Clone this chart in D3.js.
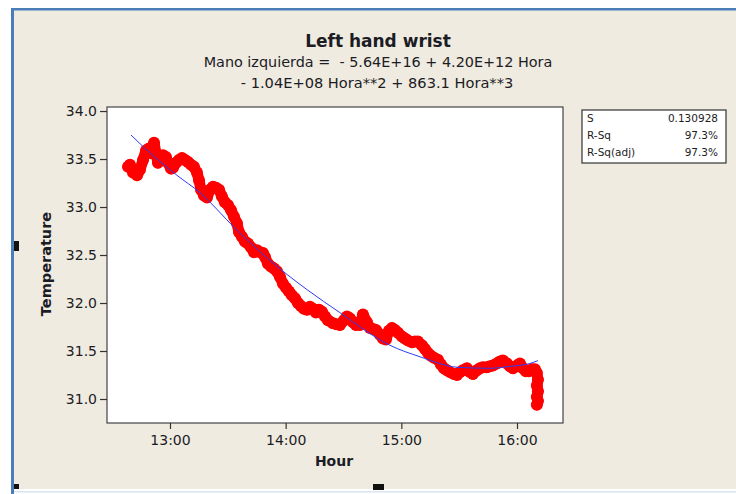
<!DOCTYPE html>
<html>
<head>
<meta charset="utf-8">
<script src="https://cdn.jsdelivr.net/npm/d3@7/dist/d3.min.js"></script>
<style>
  body { margin: 0; background: #fff; }
  svg text { font-family: "DejaVu Sans", Verdana, sans-serif; fill: #1c1c24; }
</style>
</head>
<body>
<div id="chart"></div>
<script>
// measured readings (hour of day as decimal, temperature)
var hours = [12.637,12.654,12.680,12.715,12.741,12.767,12.793,12.818,12.836,12.862,12.879,12.896,12.922,12.940,12.965,12.983,
  13.009,13.026,13.052,13.078,13.104,13.130,13.156,13.182,13.207,13.233,13.251,13.268,13.294,13.320,13.346,13.372,13.398,13.424,
  13.449,13.475,13.501,13.527,13.553,13.579,13.596,13.622,13.648,13.674,13.700,13.726,13.752,13.778,13.804,13.821,13.847,13.873,
  13.899,13.925,13.951,13.977,14.003,14.029,14.054,14.080,14.106,14.132,14.158,14.184,14.210,14.236,14.262,14.288,14.314,14.340,
  14.366,14.409,14.435,14.469,14.504,14.530,14.556,14.582,14.608,14.642,14.668,14.703,14.729,14.755,14.781,14.815,14.841,14.867,
  14.893,14.919,14.945,14.971,15.005,15.031,15.057,15.092,15.118,15.143,15.178,15.204,15.230,15.256,15.282,15.316,15.342,15.368,
  15.394,15.420,15.455,15.481,15.507,15.532,15.567,15.593,15.619,15.653,15.679,15.705,15.740,15.766,15.792,15.826,15.852,15.878,
  15.913,15.939,15.965,16.000,16.025,16.051,16.077,16.103,16.129,16.155,16.172,16.181,16.172,16.181,16.172,16.181,16.172];
var temps = [33.42,33.44,33.36,33.33,33.39,33.49,33.59,33.61,33.56,33.67,33.56,33.46,33.49,33.54,33.52,33.46,
  33.40,33.41,33.46,33.49,33.51,33.49,33.47,33.44,33.42,33.36,33.28,33.18,33.12,33.10,33.18,33.21,33.20,33.18,
  33.11,33.05,33.02,32.97,32.90,32.83,32.74,32.69,32.64,32.62,32.58,32.53,32.55,32.53,32.52,32.48,32.41,32.38,
  32.36,32.33,32.27,32.20,32.16,32.12,32.08,32.05,32.00,31.97,31.94,31.93,31.96,31.94,31.90,31.93,31.91,31.86,
  31.82,31.79,31.78,31.77,31.82,31.86,31.84,31.80,31.77,31.77,31.88,31.80,31.74,31.73,31.72,31.67,31.63,31.62,
  31.71,31.74,31.72,31.69,31.65,31.63,31.61,31.59,31.60,31.60,31.56,31.52,31.48,31.45,31.43,31.41,31.36,31.32,
  31.30,31.28,31.26,31.25,31.28,31.30,31.32,31.28,31.26,31.30,31.32,31.33,31.33,31.34,31.35,31.37,31.39,31.40,
  31.37,31.34,31.32,31.35,31.37,31.32,31.29,31.29,31.31,31.31,31.27,31.20,31.14,31.08,31.02,30.98,30.94];

// cubic regression line
var fitHours = [12.663,12.767,13.061,13.259,13.562,13.838,14.184,14.469,14.901,15.161,15.489,15.766,15.939,16.111,16.181];
var fitTemps = [33.75,33.63,33.33,33.15,32.78,32.47,32.14,31.90,31.56,31.44,31.33,31.32,31.34,31.37,31.40];

var yTicks = [31.0, 31.5, 32.0, 32.5, 33.0, 33.5, 34.0];
var xTicks = [13, 14, 15, 16];
var statNames = ["S", "R-Sq", "R-Sq(adj)"];
var statValues = ["0.130928", "97.3%", "97.3%"];

var svg = d3.select("#chart").append("svg")
    .attr("width", 736)
    .attr("height", 494);

// window background and frame
svg.append("rect").attr("x", 14).attr("y", 10).attr("width", 722).attr("height", 479).attr("fill", "#efebe1");
svg.append("rect").attr("x", 11).attr("y", 8).attr("width", 725).attr("height", 2.5).attr("fill", "#4a7ebb");
svg.append("rect").attr("x", 11).attr("y", 8).attr("width", 3).attr("height", 486).attr("fill", "#4a7ebb");
svg.append("rect").attr("x", 14).attr("y", 491).attr("width", 722).attr("height", 1.5).attr("fill", "#dbe5f1");

// selection handles
svg.append("rect").attr("x", 14).attr("y", 241).attr("width", 5).attr("height", 10).attr("fill", "#111");
svg.append("rect").attr("x", 14).attr("y", 484).attr("width", 5).attr("height", 5).attr("fill", "#111");
svg.append("rect").attr("x", 373).attr("y", 484).attr("width", 11).attr("height", 6).attr("fill", "#111");

var plotLeft = 107, plotRight = 563, plotTop = 107, plotBottom = 423;

var x = d3.scaleLinear().domain([12.4555, 16.3976]).range([plotLeft, plotRight]);
var y = d3.scaleLinear().domain([30.75, 34.042]).range([plotBottom, plotTop]);

svg.append("rect")
    .attr("x", plotLeft).attr("y", plotTop)
    .attr("width", plotRight - plotLeft).attr("height", plotBottom - plotTop)
    .attr("fill", "#fff").attr("stroke", "#444").attr("stroke-width", 1.2);

var hhmm = function(h) {
    var hh = Math.floor(h), mm = Math.round((h - hh) * 60);
    return hh + ":" + (mm < 10 ? "0" : "") + mm;
};

var yAxis = svg.append("g")
    .attr("transform", "translate(" + plotLeft + ",0)")
    .call(d3.axisLeft(y).tickValues(yTicks).tickFormat(d3.format(".1f")).tickSize(7).tickPadding(3));
var xAxis = svg.append("g")
    .attr("transform", "translate(0," + plotBottom + ")")
    .call(d3.axisBottom(x).tickValues(xTicks).tickFormat(hhmm).tickSize(6).tickPadding(6));
[yAxis, xAxis].forEach(function(g) {
    g.select(".domain").remove();
    g.selectAll(".tick line").attr("stroke", "#333").attr("stroke-width", 1.2);
    g.selectAll(".tick text").style("font-family", "DejaVu Sans").style("font-size", "14px").attr("fill", "#1c1c24");
});

// data points: dense symbols merge into a thick band
var pts = hours.map(function(h, i) { return [h, temps[i]]; });
var line = d3.line().x(function(d) { return x(d[0]); }).y(function(d) { return y(d[1]); });
svg.append("path")
    .datum(pts)
    .attr("fill", "none")
    .attr("stroke", "#ff0000")
    .attr("stroke-width", 11)
    .attr("stroke-linejoin", "round")
    .attr("stroke-linecap", "round")
    .attr("d", line);
svg.append("g").selectAll("circle")
    .data(pts).enter().append("circle")
    .attr("cx", function(d) { return x(d[0]); })
    .attr("cy", function(d) { return y(d[1]); })
    .attr("r", 6)
    .attr("fill", "#ff0000");

// fitted line
var fit = fitHours.map(function(h, i) { return [h, fitTemps[i]]; });
svg.append("path")
    .datum(fit)
    .attr("fill", "none")
    .attr("stroke", "#2f3cf5")
    .attr("stroke-width", 1)
    .attr("d", line.curve(d3.curveMonotoneX));

// titles
svg.append("text").attr("x", 378).attr("y", 47).attr("text-anchor", "middle")
    .style("font-size", "17px").style("font-weight", "bold").attr("fill", "#000")
    .text("Left hand wrist");
svg.append("text").attr("x", 378).attr("y", 67).attr("text-anchor", "middle")
    .style("font-size", "14.4px").style("white-space", "pre")
    .text("Mano izquierda =  - 5.64E+16 + 4.20E+12 Hora");
svg.append("text").attr("x", 377).attr("y", 88).attr("text-anchor", "middle")
    .style("font-size", "14.6px").style("white-space", "pre")
    .text("- 1.04E+08 Hora**2 + 863.1 Hora**3");

svg.append("text").attr("x", 334).attr("y", 466).attr("text-anchor", "middle")
    .style("font-size", "14px").style("font-weight", "bold").attr("fill", "#000")
    .text("Hour");
svg.append("text").attr("transform", "translate(51,264) rotate(-90)").attr("text-anchor", "middle")
    .style("font-size", "14.5px").style("font-weight", "bold").attr("fill", "#000")
    .text("Temperature");

// summary box
var box = svg.append("g");
box.append("rect").attr("x", 582).attr("y", 110).attr("width", 144).attr("height", 53)
    .attr("fill", "#fff").attr("stroke", "#333").attr("stroke-width", 1.2);
box.selectAll("text.name").data(statNames).enter().append("text")
    .attr("class", "name")
    .attr("x", 587).attr("y", function(d, i) { return 122 + i * 17.2; })
    .style("font-size", "10.5px").text(function(d) { return d; });
box.selectAll("text.val").data(statValues).enter().append("text")
    .attr("class", "val")
    .attr("x", 718).attr("y", function(d, i) { return 122 + i * 17.2; })
    .attr("text-anchor", "end")
    .style("font-size", "10.5px").text(function(d) { return d; });
</script>
</body>
</html>
